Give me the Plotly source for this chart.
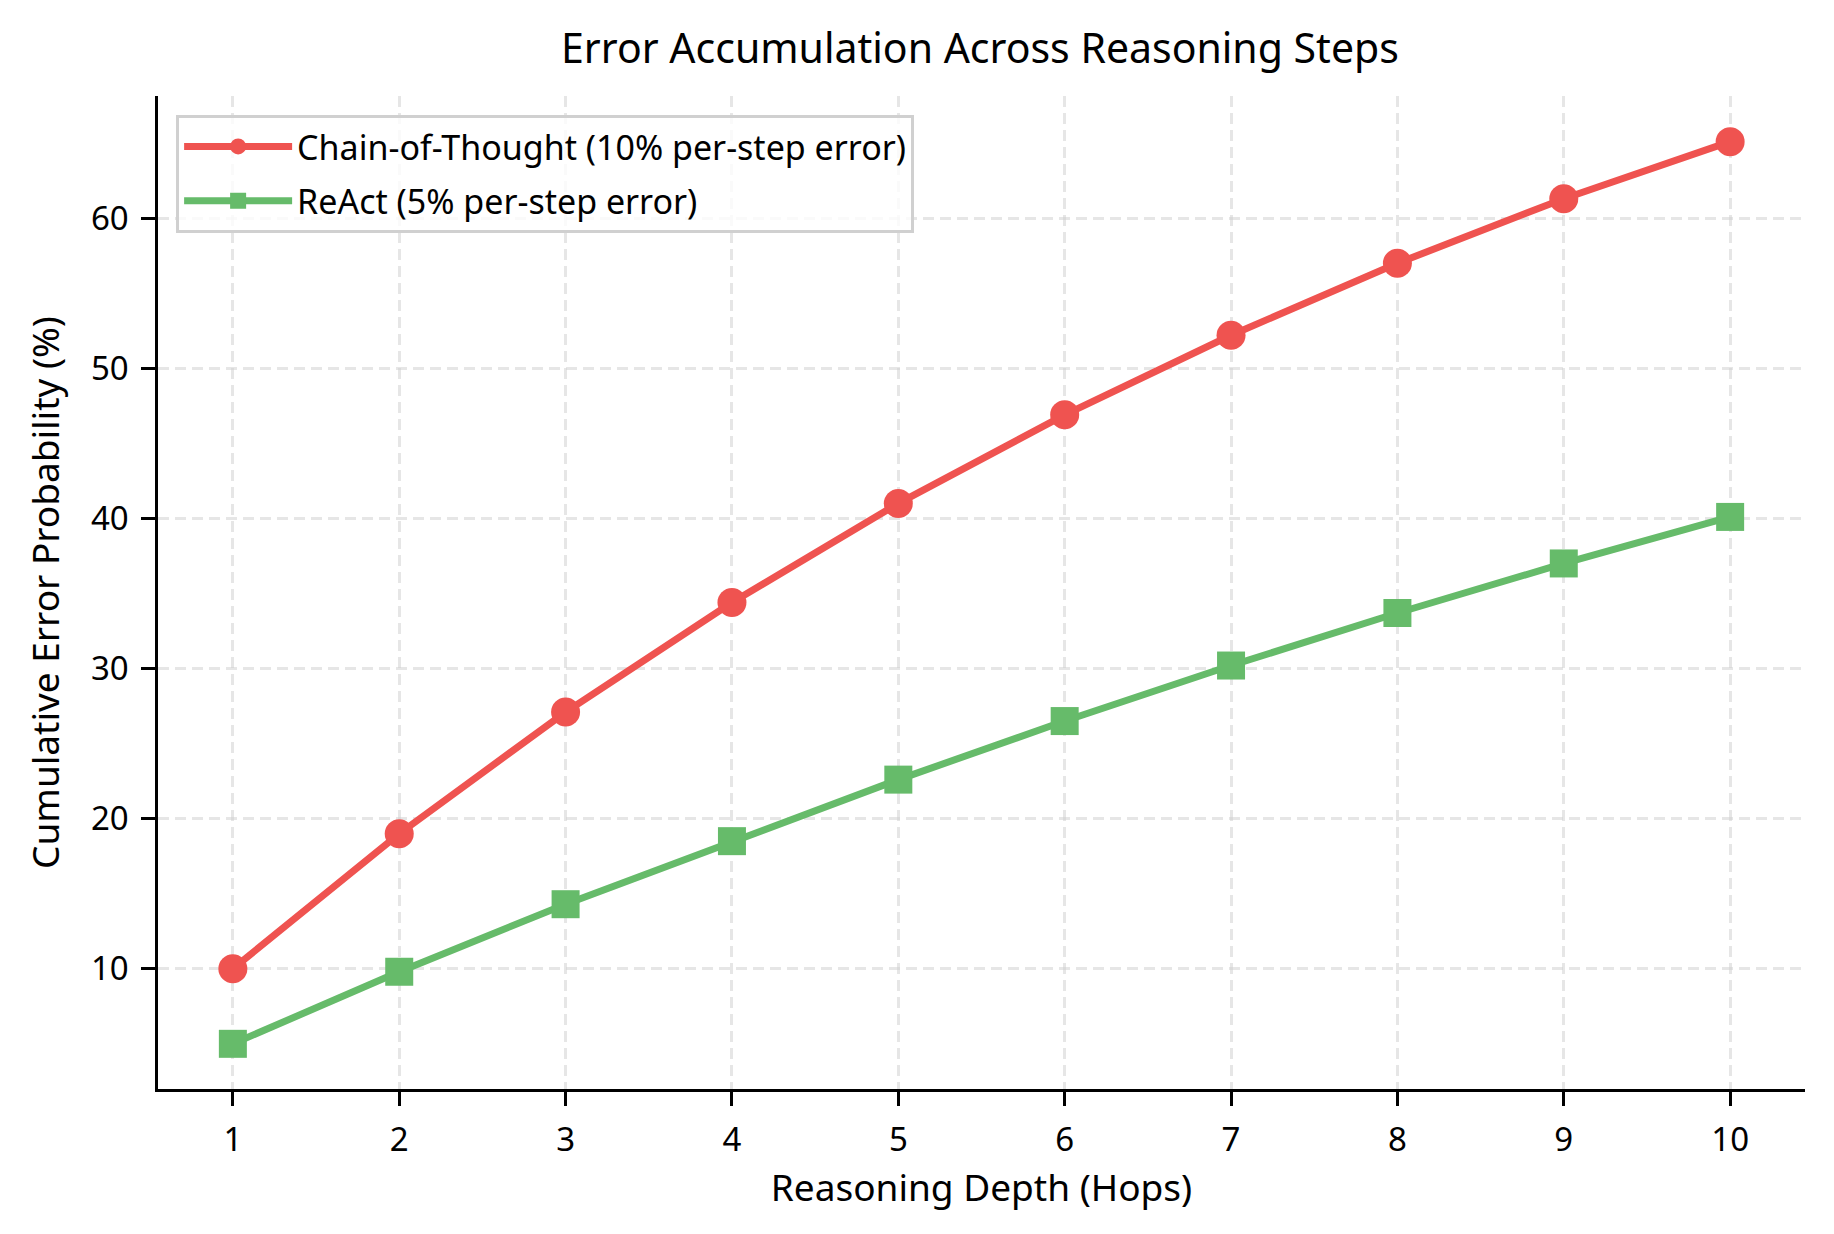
import plotly.graph_objects as go

# Reasoning depth (hops) and cumulative error probability (%)
hops = [1, 2, 3, 4, 5, 6, 7, 8, 9, 10]
cot_error = [10.0, 19.0, 27.1, 34.4, 41.0, 46.9, 52.2, 57.0, 61.3, 65.1]
react_error = [5.0, 9.8, 14.3, 18.5, 22.6, 26.5, 30.2, 33.7, 37.0, 40.1]

x_ticks = [1, 2, 3, 4, 5, 6, 7, 8, 9, 10]
y_ticks = [10, 20, 30, 40, 50, 60]

font_name = "Noto Sans"

fig = go.Figure()

fig.add_trace(go.Scatter(
    x=hops, y=cot_error,
    mode="lines+markers",
    name="Chain-of-Thought (10% per-step error)",
    legendgroup="cot",
    line=dict(color="#EF5350", width=7),
    marker=dict(symbol="circle", size=29, color="#EF5350"),
))

fig.add_trace(go.Scatter(
    x=hops, y=react_error,
    mode="lines+markers",
    name="ReAct (5% per-step error)",
    legendgroup="react",
    line=dict(color="#66BB6A", width=7),
    marker=dict(symbol="square", size=28, color="#66BB6A"),
))

axis_common = dict(
    showline=True, linecolor="black", linewidth=2.5, mirror=False,
    ticks="outside", ticklen=14, tickwidth=2.5, tickcolor="black",
    ticklabelstandoff=6,
    showgrid=True, gridcolor="rgba(205,205,205,0.5)", gridwidth=2.5,
    griddash="11px,6px", zeroline=False,
    tickfont=dict(family=font_name, size=33, color="black"),
)

fig.update_xaxes(
    range=[0.55, 10.45], tickvals=x_ticks,
    title=dict(text="Reasoning Depth (Hops)", standoff=14,
               font=dict(family=font_name, size=37, color="black")),
    **axis_common,
)
fig.update_yaxes(
    range=[1.99, 68.14], tickvals=y_ticks,
    title=dict(text="Cumulative Error Probability (%)", standoff=20,
               font=dict(family=font_name, size=37, color="black")),
    **axis_common,
)

fig.update_layout(
    width=1826, height=1226,
    paper_bgcolor="white", plot_bgcolor="white",
    margin=dict(l=150, r=29, t=88, b=145),
    title=dict(text="Error Accumulation Across Reasoning Steps",
               x=0.5323, xanchor="center", y=0.9666, yanchor="middle",
               font=dict(family=font_name, size=41, color="black")),
    font=dict(family=font_name, color="black"),
    legend=dict(
        x=0.011, y=0.981, xanchor="left", yanchor="top",
        bgcolor="rgba(255,255,255,0.8)", bordercolor="#D0D0D0", borderwidth=3,
        font=dict(family=font_name, size=34, color="black"),
        itemwidth=108, tracegroupgap=7,
    ),
    showlegend=True,
)

fig.write_html("out.html")
